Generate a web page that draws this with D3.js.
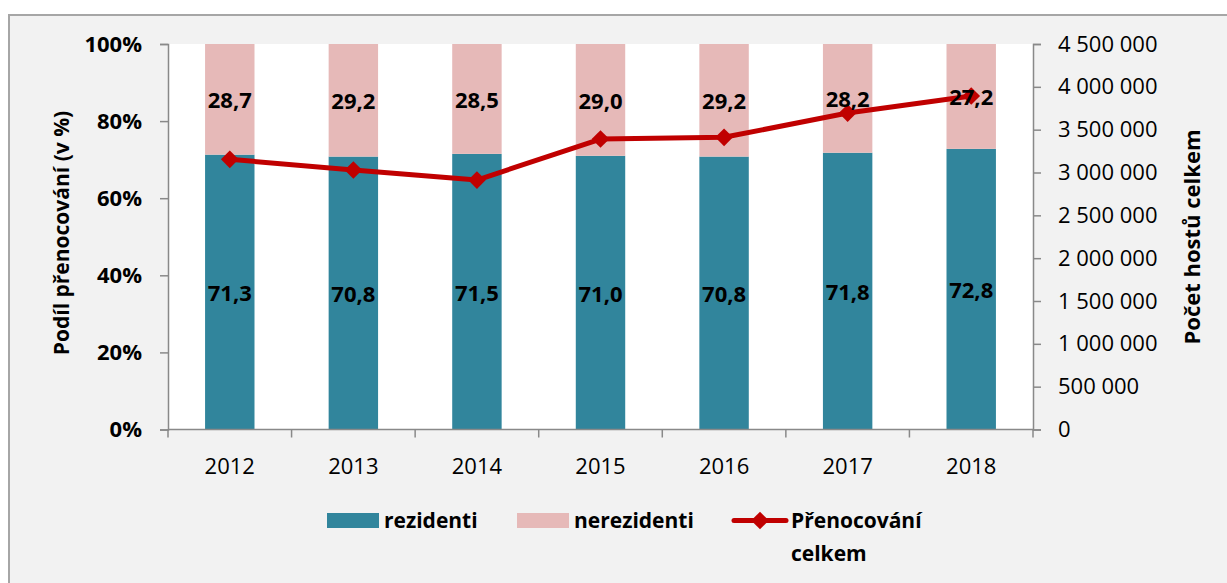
<!DOCTYPE html>
<html>
<head>
<meta charset="utf-8">
<script src="https://cdn.jsdelivr.net/npm/d3@7"></script>
<style>
  html, body { margin: 0; padding: 0; background: #fff; }
  svg { display: block; font-family: "Open Sans", sans-serif; }
</style>
</head>
<body>
<svg id="chart"></svg>
<script>
// data
const years = ["2012", "2013", "2014", "2015", "2016", "2017", "2018"];
const rezidenti = [71.3, 70.8, 71.5, 71.0, 70.8, 71.8, 72.8];
const nerezidenti = [28.7, 29.2, 28.5, 29.0, 29.2, 28.2, 27.2];
const prenocovani = [3154000, 3029000, 2912000, 3391000, 3411000, 3694000, 3893000];
const leftTicks = [0, 0.2, 0.4, 0.6, 0.8, 1];
const rightTicks = [0, 500000, 1000000, 1500000, 2000000, 2500000, 3000000, 3500000, 4000000, 4500000];

const W = 1227, H = 583;
const plot = {left: 168, right: 1033, top: 44, bottom: 429.5};

const colTeal = "#31859C", colPink = "#E6B9B8", colRed = "#C00000", colAxis = "#898989";

const svg = d3.select("#chart").attr("width", W).attr("height", H);

// chart area background + border
svg.append("rect").attr("x", 0).attr("y", 0).attr("width", W).attr("height", H).attr("fill", "#fff");
svg.append("rect")
    .attr("x", 9).attr("y", 15).attr("width", W + 20).attr("height", H)
    .attr("fill", "#F2F2F2").attr("stroke", "#A6A6A6").attr("stroke-width", 2);

// plot area
svg.append("rect")
    .attr("x", plot.left).attr("y", plot.top)
    .attr("width", plot.right - plot.left).attr("height", plot.bottom - plot.top)
    .attr("fill", "#fff");

const x = d3.scaleBand().domain(years).range([plot.left, plot.right]).padding(0);
const yPct = d3.scaleLinear().domain([0, 100]).range([plot.bottom, plot.top]);
const yLeft = d3.scaleLinear().domain([0, 1]).range([plot.bottom, plot.top]);
const yRight = d3.scaleLinear().domain([0, 4500000]).range([plot.bottom, plot.top]);

const barW = x.bandwidth() * 0.4;
const cx = d => x(d) + x.bandwidth() / 2;

const rows = years.map((yr, i) => ({year: yr, rez: rezidenti[i], nerez: nerezidenti[i], total: prenocovani[i]}));

// stacked bars
svg.append("g").selectAll("rect").data(rows).join("rect")
    .attr("x", d => cx(d.year) - barW / 2)
    .attr("y", d => yPct(d.rez))
    .attr("width", barW)
    .attr("height", d => yPct(0) - yPct(d.rez))
    .attr("fill", colTeal);

svg.append("g").selectAll("rect").data(rows).join("rect")
    .attr("x", d => cx(d.year) - barW / 2)
    .attr("y", plot.top)
    .attr("width", barW)
    .attr("height", d => yPct(d.rez) - plot.top)
    .attr("fill", colPink);

// axes
const czLocale = d3.formatLocale({decimal: ",", thousands: " ", grouping: [3], currency: ["", ""]});
const fmtBig = czLocale.format(",");
const fmtDec = czLocale.format(".1f");

const leftAxis = svg.append("g")
    .attr("transform", "translate(" + plot.left + ",0)")
    .call(d3.axisLeft(yLeft).tickValues(leftTicks).tickFormat(d3.format(".0%")).tickSize(8).tickPadding(18));

const rightAxis = svg.append("g")
    .attr("transform", "translate(" + plot.right + ",0)")
    .call(d3.axisRight(yRight).tickValues(rightTicks).tickFormat(fmtBig).tickSize(8).tickPadding(17));

[leftAxis, rightAxis].forEach(g => {
    g.selectAll("path, line").attr("stroke", colAxis).attr("stroke-width", 1.5);
    g.selectAll("text").attr("fill", "#000").style("font-size", "22px").style("font-family", "Open Sans");
});
leftAxis.selectAll("text").style("font-weight", 700);

// category axis: ticks between categories
const bottom = svg.append("g");
bottom.append("line")
    .attr("x1", plot.left).attr("x2", plot.right)
    .attr("y1", plot.bottom).attr("y2", plot.bottom)
    .attr("stroke", colAxis).attr("stroke-width", 1.5);
const bounds = years.map(d => x(d)).concat([plot.right]);
bottom.selectAll("line.tick").data(bounds).join("line")
    .attr("class", "tick")
    .attr("x1", d => d).attr("x2", d => d)
    .attr("y1", plot.bottom).attr("y2", plot.bottom + 8)
    .attr("stroke", colAxis).attr("stroke-width", 1.5);
bottom.selectAll("text").data(years).join("text")
    .attr("x", d => cx(d))
    .attr("y", 465)
    .attr("text-anchor", "middle")
    .attr("dominant-baseline", "central")
    .style("font-size", "22px")
    .text(d => d);

// axis titles
svg.append("text")
    .attr("transform", "translate(61,233) rotate(-90)")
    .attr("text-anchor", "middle")
    .attr("dominant-baseline", "central")
    .style("font-size", "21px").style("font-weight", 700)
    .text("Podíl přenocování (v %)");

svg.append("text")
    .attr("transform", "translate(1191,237) rotate(-90)")
    .attr("text-anchor", "middle")
    .attr("dominant-baseline", "central")
    .style("font-size", "22px").style("font-weight", 700)
    .text("Počet hostů celkem");

// line + diamonds
svg.append("path")
    .datum(rows)
    .attr("fill", "none")
    .attr("stroke", colRed)
    .attr("stroke-width", 5)
    .attr("stroke-linejoin", "round")
    .attr("d", d3.line().x(d => cx(d.year)).y(d => yRight(d.total)));

const diamond = d3.symbol().type(d3.symbolDiamond2).size(200);
svg.append("g").selectAll("path").data(rows).join("path")
    .attr("transform", d => "translate(" + cx(d.year) + "," + yRight(d.total) + ")")
    .attr("d", diamond)
    .attr("fill", colRed);

// data labels
svg.append("g").selectAll("text").data(rows).join("text")
    .attr("x", d => cx(d.year))
    .attr("y", d => (yPct(d.rez) + yPct(0)) / 2)
    .attr("text-anchor", "middle")
    .attr("dominant-baseline", "central")
    .style("font-size", "22px").style("font-weight", 700)
    .text(d => fmtDec(d.rez));

svg.append("g").selectAll("text").data(rows).join("text")
    .attr("x", d => cx(d.year))
    .attr("y", d => (yPct(d.rez) + plot.top) / 2)
    .attr("text-anchor", "middle")
    .attr("dominant-baseline", "central")
    .style("font-size", "22px").style("font-weight", 700)
    .text(d => fmtDec(d.nerez));

// legend
const legend = svg.append("g").style("font-size", "21px").style("font-weight", 700);
legend.append("rect").attr("x", 327).attr("y", 513).attr("width", 52).attr("height", 15).attr("fill", colTeal);
legend.append("text").attr("x", 384).attr("y", 520).attr("dominant-baseline", "central").text("rezidenti");
legend.append("rect").attr("x", 517).attr("y", 513).attr("width", 52).attr("height", 15).attr("fill", colPink);
legend.append("text").attr("x", 574).attr("y", 520).attr("dominant-baseline", "central").text("nerezidenti");
legend.append("line").attr("x1", 734).attr("x2", 786).attr("y1", 520.5).attr("y2", 520.5)
    .attr("stroke", colRed).attr("stroke-width", 5).attr("stroke-linecap", "round");
legend.append("path").attr("transform", "translate(760,520.5)").attr("d", diamond).attr("fill", colRed);
legend.append("text").attr("x", 791).attr("y", 520).attr("dominant-baseline", "central").text("Přenocování");
legend.append("text").attr("x", 791).attr("y", 553).attr("dominant-baseline", "central").text("celkem");
</script>
</body>
</html>
